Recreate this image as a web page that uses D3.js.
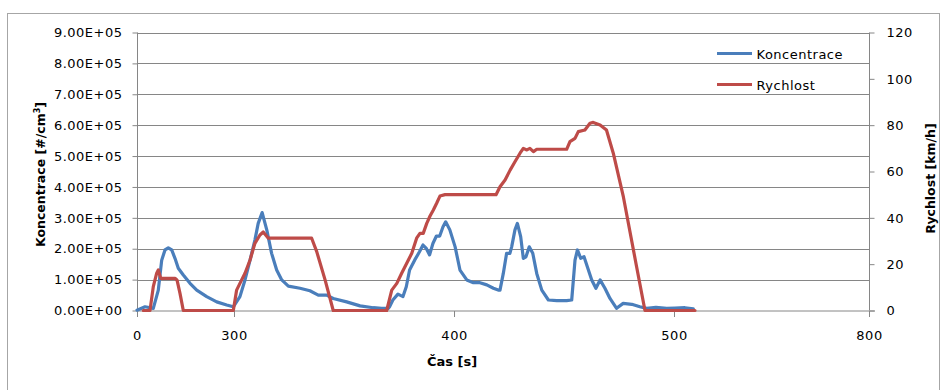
<!DOCTYPE html>
<html>
<head>
<meta charset="utf-8">
<script src="https://cdn.jsdelivr.net/npm/d3@7"></script>
<style>
  html, body { margin: 0; padding: 0; background: #fff; }
  svg { display: block; }
  text { font-family: "DejaVu Sans", Verdana, sans-serif; fill: #000; }
</style>
</head>
<body>
<svg id="chart" width="947" height="390"></svg>
<script>
// Time axis tick values [s]
const xTickValues = [0, 300, 400, 500, 800];
// Left axis ticks: particle concentration [#/cm3]
const concTicks = [0, 1e5, 2e5, 3e5, 4e5, 5e5, 6e5, 7e5, 8e5, 9e5];
// Right axis ticks: speed [km/h]
const speedTicks = [0, 20, 40, 60, 80, 100, 120];

// Koncentrace series: time [s] and concentration [#/cm3]
const casKoncentrace = [0, 24.7, 50.4, 65.9, 76.4, 86.6, 96.8, 107.3, 117.5, 127.7, 143.2, 163.9, 184.7, 215.6, 246.5, 277.4, 297.9,
  302.7, 305, 307.3, 309.5, 311, 312.8, 314.9, 317.1, 319.4, 321.7, 324.7, 330, 334.5, 338.3, 342.1, 345.1, 351.2, 357.3, 363.3, 367.1, 370.1,
  370.7, 372.2, 374.5, 376.8, 378.3, 379.8, 382.1, 384.3, 385.9, 387.4, 388.9, 390.4, 392, 393.5, 395, 396.2, 398.1, 400.5, 402.7, 405.8,
  408.8, 411.8, 414.9, 417.9, 420.1, 420.9, 422.4, 423.9, 425.4, 426.2, 427.7, 428.8, 430.3, 431.5, 432.7, 434.2, 435.8, 437.6, 439.9,
  442.9, 446.7, 451.2, 453.5, 455, 456.1, 457.6, 459.1, 460.6, 462.6, 464.5, 466.4, 468.6, 470.9, 473.9, 476.9, 480.8, 484.5, 487.6,
  491.8, 496.7, 501.5, 516.9, 529.7];
const koncentrace = [1e3, 12e3, 7e3, 66e3, 163e3, 196e3, 203e3, 196e3, 169e3, 137e3, 115e3, 88e3, 66e3, 45e3, 28e3, 18e3, 12e3,
  45e3, 99e3, 163e3, 228e3, 282e3, 317e3, 261e3, 185e3, 131e3, 99e3, 79e3, 72e3, 64e3, 50e3, 50e3, 39e3, 28e3, 15e3, 9e3, 7e3, 7e3,
  12e3, 34e3, 53e3, 45e3, 77e3, 131e3, 163e3, 190e3, 212e3, 201e3, 180e3, 217e3, 241e3, 241e3, 271e3, 287e3, 261e3, 206e3, 131e3, 99e3,
  90e3, 90e3, 83e3, 72e3, 66e3, 66e3, 120e3, 185e3, 185e3, 206e3, 261e3, 282e3, 239e3, 169e3, 174e3, 206e3, 185e3, 120e3, 66e3,
  34e3, 32e3, 32e3, 34e3, 163e3, 196e3, 169e3, 174e3, 142e3, 99e3, 72e3, 99e3, 72e3, 39e3, 7e3, 23e3, 20e3, 12e3, 7e3,
  10e3, 7e3, 8e3, 9e3, 5e3];

// Rychlost series: time [s] and vehicle speed [km/h]
const casRychlost = [19.5, 40.2, 50.4, 60.9, 65.9, 73.3, 117.5, 123.7, 133, 143.2, 297.9, 301.2, 302.7, 305, 307.3, 309.5, 311.8, 313.3,
  315.6, 335.3, 337.6, 341.4, 345.1, 369.4, 371.7, 374, 376.2, 378.5, 380.8, 383, 384.5, 386, 387.6, 389.1, 390.6, 392.1, 393.6, 395.9,
  419.1, 420.9, 423.2, 425.5, 427.7, 430, 431.5, 433.1, 434.5, 436.1, 437.6, 451.2, 452.7, 455, 456.5, 459.5, 461.8, 463.3, 466.4,
  469.3, 472.4, 477, 483, 486.8, 532.3];
const rychlost = [0, 0, 10.3, 16.1, 17.5, 13.9, 13.9, 13.2, 7.4, 0, 0, 8.8, 11.7, 16.1, 21.8, 29.0, 32.6, 33.9,
  31.2, 31.2, 25.4, 13.2, 0, 0, 8.8, 11.7, 16.1, 20.4, 24.7, 31.2, 33.3, 33.3, 37.6, 40.8, 43.4, 46.3, 49.4, 50,
  50, 53.4, 56.3, 60.6, 64.2, 67.9, 70, 69.3, 70, 68.6, 69.6, 69.6, 72.9, 74.3, 77.2, 77.9, 80.8, 81.2, 80.1,
  77.9, 67.9, 49, 18.9, 0, 0];

const svg = d3.select("#chart");
const W = 947, H = 390;
const plot = { left: 137, right: 869, top: 32.5, bottom: 310.5 };
const pw = plot.right - plot.left;

const gridColor = "#868686";
const blue = "#4a7ebb";
const red = "#be4b48";

// Outer chart frame
svg.append("rect")
  .attr("x", 7.5).attr("y", 13.5)
  .attr("width", 932).attr("height", 390)
  .attr("fill", "none").attr("stroke", "#a6a6a6").attr("stroke-width", 1);

// The time axis is piecewise: each labelled tick sits at its own position
const xBreaks = [0, 0.1325, 0.4331, 0.7336, 1].map(f => plot.left + f * pw);
const x = d3.scaleLinear().domain(xTickValues).range(xBreaks);
const yC = d3.scaleLinear().domain([0, 9e5]).range([plot.bottom, plot.top]);
const yS = d3.scaleLinear().domain([0, 120]).range([plot.bottom, plot.top]);

// Horizontal gridlines
svg.append("g").selectAll("line").data(concTicks.slice(1)).join("line")
  .attr("x1", plot.left).attr("x2", plot.right)
  .attr("y1", d => Math.round(yC(d)) + 0.5).attr("y2", d => Math.round(yC(d)) + 0.5)
  .attr("stroke", gridColor).attr("stroke-width", 1);

const fmtConc = d => d.toExponential(2).toUpperCase().replace(/E\+(\d)$/, "E+0$1").replace(/E-(\d)$/, "E-0$1");

// Left axis
const gL = svg.append("g").attr("transform", `translate(${plot.left + 0.5},0)`)
  .call(d3.axisLeft(yC).tickValues(concTicks).tickFormat(fmtConc).tickSize(5).tickPadding(10).tickSizeOuter(0));
// Right axis
const gR = svg.append("g").attr("transform", `translate(${plot.right + 0.5},0)`)
  .call(d3.axisRight(yS).tickValues(speedTicks).tickFormat(d3.format("d")).tickSize(5).tickPadding(12).tickSizeOuter(0));
// Bottom axis
const gB = svg.append("g").attr("transform", `translate(0,${plot.bottom + 0.5})`)
  .call(d3.axisBottom(x).tickValues(xTickValues).tickFormat(d3.format("d")).tickSize(6).tickPadding(14).tickSizeOuter(0));

[gL, gR, gB].forEach(g => {
  g.select(".domain").attr("stroke", gridColor);
  g.selectAll(".tick line").attr("stroke", gridColor);
  g.selectAll(".tick text")
    .style("font-family", '"DejaVu Sans", Verdana, sans-serif')
    .style("font-size", "13px").style("letter-spacing", "0.5px").attr("fill", "#000");
});
gL.select(".domain").attr("d", `M0,${plot.top}V${plot.bottom}`);
gR.select(".domain").attr("d", `M0,${plot.top}V${plot.bottom}`);
gB.select(".domain").attr("d", `M${plot.left},0H${plot.right + 6}`);

// Series lines
const lineC = d3.line().x(d => x(d[0])).y(d => yC(d[1]));
const lineS = d3.line().x(d => x(d[0])).y(d => yS(d[1]));

svg.append("path")
  .datum(casKoncentrace.map((t, i) => [t, koncentrace[i]]))
  .attr("d", lineC).attr("fill", "none").attr("stroke", blue)
  .attr("stroke-width", 3.2).attr("stroke-linejoin", "round").attr("stroke-linecap", "round");

svg.append("path")
  .datum(casRychlost.map((t, i) => [t, rychlost[i]]))
  .attr("d", lineS).attr("fill", "none").attr("stroke", red)
  .attr("stroke-width", 3.2).attr("stroke-linejoin", "round").attr("stroke-linecap", "round");

// Axis titles
svg.append("text")
  .attr("transform", `translate(45,${(plot.top + plot.bottom) / 2 + 3}) rotate(-90)`)
  .attr("text-anchor", "middle").style("font-size", "12.5px").style("font-weight", "bold")
  .html('Koncentrace  [#/cm<tspan dy="-5" style="font-size:8px">3</tspan><tspan dy="5">]</tspan>');

svg.append("text")
  .attr("transform", `translate(935,${(plot.top + plot.bottom) / 2 + 7}) rotate(-90)`)
  .attr("text-anchor", "middle").style("font-size", "12.5px").style("font-weight", "bold")
  .text("Rychlost  [km/h]");

svg.append("text")
  .attr("x", 452).attr("y", 366)
  .attr("text-anchor", "middle").style("font-size", "13px").style("font-weight", "bold")
  .text("Čas [s]");

// Legend
const legend = [
  { name: "Koncentrace", color: blue },
  { name: "Rychlost", color: red }
];
const lg = svg.append("g");
legend.forEach((d, i) => {
  const yy = 53.5 + i * 31;
  lg.append("line").attr("x1", 717).attr("x2", 752).attr("y1", yy).attr("y2", yy)
    .attr("stroke", d.color).attr("stroke-width", 3.2);
  lg.append("text").attr("x", 756.5).attr("y", yy + 5)
    .style("font-size", "13px").style("letter-spacing", "0.5px").text(d.name);
});
</script>
</body>
</html>
